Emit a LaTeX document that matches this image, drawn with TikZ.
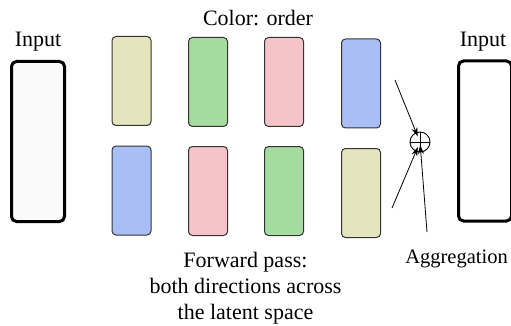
\documentclass[tikz,border=0pt]{standalone}
\usepackage{fontspec}
\setmainfont{Liberation Serif}
\usetikzlibrary{arrows.meta}
\definecolor{cyel}{HTML}{E4E4BF}
\definecolor{cgrn}{HTML}{A6DBA0}
\definecolor{cpnk}{HTML}{F5C4C8}
\definecolor{cblu}{HTML}{A8BEF5}
\definecolor{cedge}{HTML}{333333}
\tikzset{
  lat/.style={draw=cedge, line width=1pt, rounded corners=4pt, minimum width=39pt, minimum height=89pt, inner sep=0pt},
  inbox/.style={draw=black, line width=3pt, rounded corners=5pt, minimum width=53pt, minimum height=160pt, inner sep=0pt},
  lbl/.style={font=\fontsize{22}{26}\selectfont, inner sep=0pt, anchor=base},
  agar/.style={line width=0.8pt, -{Stealth[length=9pt,width=6pt]}},
}
\begin{document}
\begin{tikzpicture}[x=1pt,y=-1pt]
\useasboundingbox (0,0) rectangle (511,326);
\begin{scope}
\clip (0,0) rectangle (511,326);
% input boxes
\node[inbox, fill=black!2] (inL) at (38,141.5) {};
\node[inbox, fill=white] (inR) at (485,141) {};
\end{scope}
\node[lbl] (tinL) at (38,47) {Input};
\node[lbl] (tinR) at (483,47) {Input};
\node[lbl] (tcol) at (258,25.5) {Color: order};
% latent boxes row 1
\node[lat, fill=cyel] (a1) at (131.5,81) {};
\node[lat, fill=cgrn] (a2) at (208,82) {};
\node[lat, fill=cpnk] (a3) at (284,82) {};
\node[lat, fill=cblu] (a4) at (361,83.5) {};
% row 2
\node[lat, fill=cblu] (b1) at (131.5,190.5) {};
\node[lat, fill=cpnk] (b2) at (208,191) {};
\node[lat, fill=cgrn] (b3) at (284,191) {};
\node[lat, fill=cyel] (b4) at (361,193) {};
% aggregation
\node[circle, draw, line width=0.9pt, minimum size=20pt, inner sep=0pt,
  path picture={\draw[line width=0.9pt] (path picture bounding box.north) -- (path picture bounding box.south)
  (path picture bounding box.west) -- (path picture bounding box.east);}] (agg) at (420,142) {};
\coordinate (s1) at (395,80);
\coordinate (s2) at (392,208);
\coordinate (s3) at (427,232);
\draw[agar, shorten >=6pt] (s1) -- (agg.center);
\draw[agar, shorten >=5.5pt] (s2) -- (agg.center);
\draw[agar, shorten >=3pt] (s3) -- (agg.center);
\node[lbl, font=\fontsize{20.5}{24}\selectfont] (tagg) at (456.5,263) {Aggregation};
\node[lbl, align=center] (tfwd) at (245.5,319) {Forward pass:\\both directions across\\the latent space};
\end{tikzpicture}
\end{document}
